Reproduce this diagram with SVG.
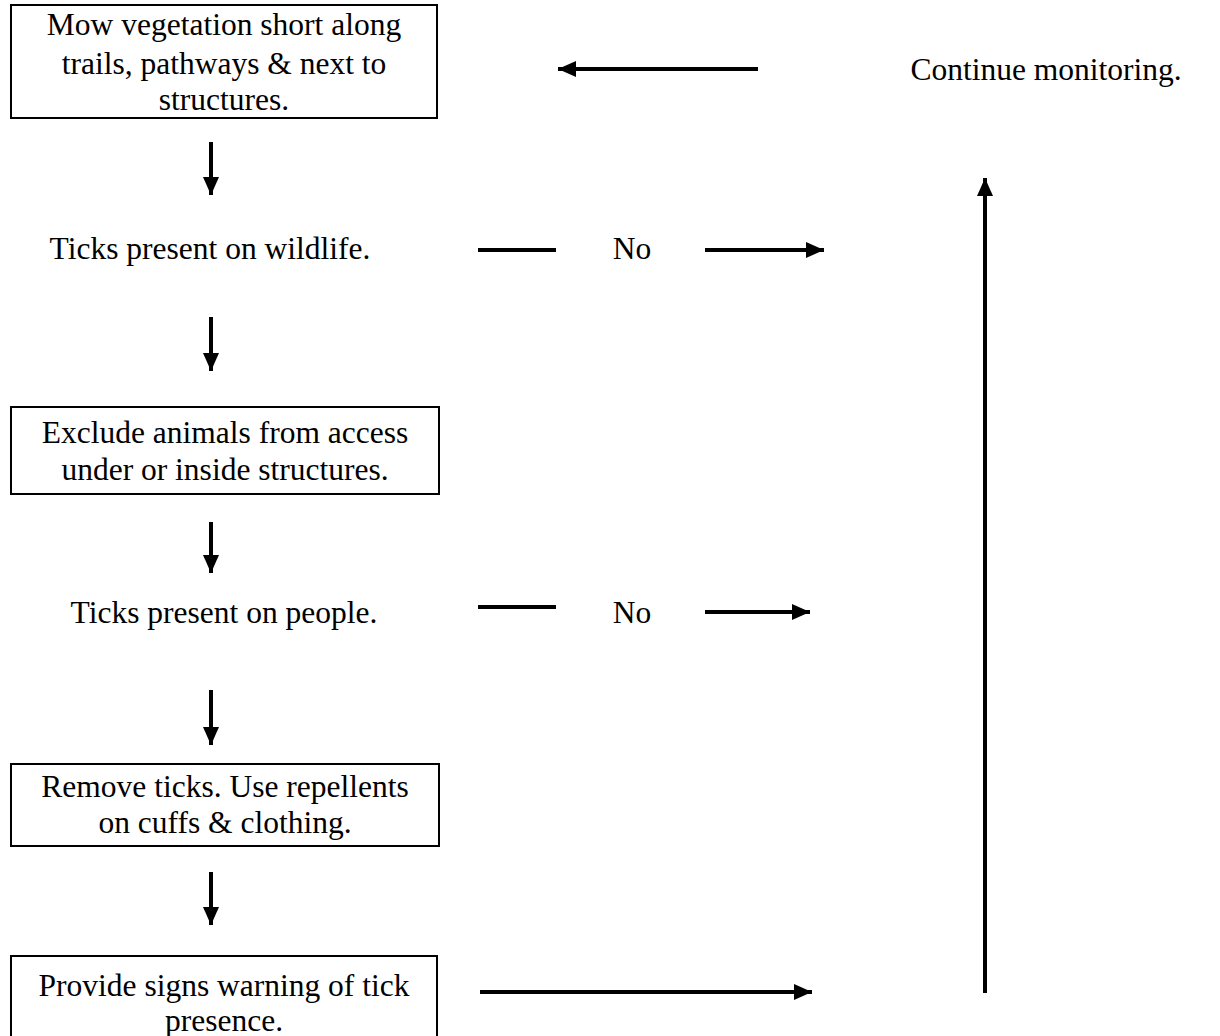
<svg xmlns="http://www.w3.org/2000/svg" width="1220" height="1036" viewBox="0 0 1220 1036">
<style>
.t{font-family:"Liberation Serif","Times New Roman",serif;font-size:31.5px;fill:#000;text-anchor:middle}
.box{fill:#fff;stroke:#000;stroke-width:2}
.ln{stroke:#000;stroke-width:4;fill:none}
</style>
<defs>
<marker id="ah" markerUnits="userSpaceOnUse" markerWidth="20" markerHeight="18" refX="18" refY="8" orient="auto">
<path d="M0,0 L18,8 L0,16 Z" fill="#000"/>
</marker>
</defs>
<rect width="1220" height="1036" fill="#fff"/>
<g id="connectors">
<line class="ln" x1="758" y1="69" x2="558" y2="69" marker-end="url(#ah)"/>
<line class="ln" x1="211" y1="142" x2="211" y2="195" marker-end="url(#ah)"/>
<line class="ln" x1="478" y1="250" x2="556" y2="250"/>
<line class="ln" x1="705" y1="250" x2="824" y2="250" marker-end="url(#ah)"/>
<line class="ln" x1="211" y1="317" x2="211" y2="371" marker-end="url(#ah)"/>
<line class="ln" x1="211" y1="522" x2="211" y2="573" marker-end="url(#ah)"/>
<line class="ln" x1="478" y1="607" x2="556" y2="607"/>
<line class="ln" x1="705" y1="612" x2="810" y2="612" marker-end="url(#ah)"/>
<line class="ln" x1="211" y1="690" x2="211" y2="745" marker-end="url(#ah)"/>
<line class="ln" x1="211" y1="872" x2="211" y2="925" marker-end="url(#ah)"/>
<line class="ln" x1="480" y1="992" x2="812" y2="992" marker-end="url(#ah)"/>
<line class="ln" x1="985" y1="993" x2="985" y2="178" marker-end="url(#ah)"/>
</g>
<g id="n1">
<rect class="box" x="11" y="5" width="426" height="113"/>
<text class="t" x="224" y="35">Mow vegetation short along</text>
<text class="t" x="224" y="74">trails, pathways &amp; next to</text>
<text class="t" x="224" y="110">structures.</text>
</g>
<g id="n2"><text class="t" x="1046" y="80">Continue monitoring.</text></g>
<g id="n3"><text class="t" x="210" y="259">Ticks present on wildlife.</text></g>
<g id="n4"><text class="t" x="632" y="259">No</text></g>
<g id="n5">
<rect class="box" x="11" y="407" width="428" height="87"/>
<text class="t" x="225" y="443">Exclude animals from access</text>
<text class="t" x="225" y="480">under or inside structures.</text>
</g>
<g id="n6"><text class="t" x="224" y="623">Ticks present on people.</text></g>
<g id="n7"><text class="t" x="632" y="623">No</text></g>
<g id="n8">
<rect class="box" x="11" y="764" width="428" height="82"/>
<text class="t" x="225" y="797">Remove ticks. Use repellents</text>
<text class="t" x="225" y="833">on cuffs &amp; clothing.</text>
</g>
<g id="n9">
<rect class="box" x="11" y="956" width="426" height="84"/>
<text class="t" x="224" y="996">Provide signs warning of tick</text>
<text class="t" x="224" y="1031">presence.</text>
</g>
</svg>
